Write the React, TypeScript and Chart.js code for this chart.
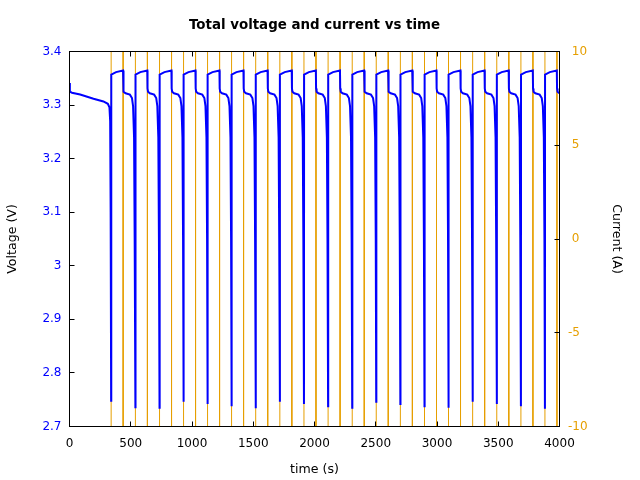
import { useEffect, useRef } from 'react';
import { Chart, registerables } from 'chart.js';

Chart.register(...registerables);

const FONT = 'DejaVu Sans';
const BLUE = '#0000ff';
const ORANGE = '#e69f00';

// Current switching times (s): charge starts / charge ends
const chargeStartTimes = [340, 538, 735, 931, 1127, 1323, 1520, 1717, 1914, 2111, 2308, 2504, 2701, 2898, 3094, 3291, 3488, 3685, 3881];
const chargeEndTimes = [438, 636, 833, 1029, 1225, 1421, 1618, 1815, 2012, 2209, 2406, 2602, 2799, 2996, 3192, 3389, 3586, 3783, 3979];
const chargeCurrent = 10;
const dischargeCurrent = -10;
const timeStart = 0;
const timeEnd = 4000;

// Voltage trace (time s, voltage V)
const voltageTimes = [
  0, 3, 20, 87, 196, 277, 313, 326, 332, 336,
  340, 341, 380, 437, 439, 443, 458, 493, 510, 519, 527, 532,
  538, 539, 578, 635, 637, 641, 656, 691, 708, 717, 725, 730,
  735, 736, 775, 832, 834, 838, 853, 888, 905, 914, 922, 927,
  931, 932, 971, 1028, 1030, 1034, 1049, 1084, 1101, 1110, 1118, 1123,
  1127, 1128, 1167, 1224, 1226, 1230, 1245, 1280, 1297, 1306, 1314, 1319,
  1323, 1324, 1363, 1420, 1422, 1426, 1441, 1476, 1493, 1502, 1510, 1515,
  1520, 1521, 1560, 1617, 1619, 1623, 1638, 1673, 1690, 1699, 1707, 1712,
  1717, 1718, 1757, 1814, 1816, 1820, 1835, 1870, 1887, 1896, 1904, 1909,
  1914, 1915, 1954, 2011, 2013, 2017, 2032, 2067, 2084, 2093, 2101, 2106,
  2111, 2112, 2151, 2208, 2210, 2214, 2229, 2264, 2281, 2290, 2298, 2303,
  2308, 2309, 2348, 2405, 2407, 2411, 2426, 2461, 2478, 2487, 2495, 2500,
  2504, 2505, 2544, 2601, 2603, 2607, 2622, 2657, 2674, 2683, 2691, 2696,
  2701, 2702, 2741, 2798, 2800, 2804, 2819, 2854, 2871, 2880, 2888, 2893,
  2898, 2899, 2938, 2995, 2997, 3001, 3016, 3051, 3068, 3077, 3085, 3090,
  3094, 3095, 3134, 3191, 3193, 3197, 3212, 3247, 3264, 3273, 3281, 3286,
  3291, 3292, 3331, 3388, 3390, 3394, 3409, 3444, 3461, 3470, 3478, 3483,
  3488, 3489, 3528, 3585, 3587, 3591, 3606, 3641, 3658, 3667, 3675, 3680,
  3685, 3686, 3725, 3782, 3784, 3788, 3803, 3838, 3855, 3864, 3872, 3877,
  3881, 3882, 3921, 3978, 3980, 3984, 4000,
];
const voltageValues = [
  3.341, 3.325, 3.323, 3.3197, 3.3117, 3.3067, 3.3024, 3.296, 3.27, 3.1,
  2.748, 3.357, 3.3615, 3.3645, 3.331, 3.325, 3.322, 3.3195, 3.313, 3.298, 3.24, 3.05,
  2.736, 3.357, 3.3615, 3.3645, 3.331, 3.325, 3.322, 3.3195, 3.313, 3.298, 3.24, 3.05,
  2.735, 3.357, 3.3615, 3.3645, 3.331, 3.325, 3.322, 3.3195, 3.313, 3.298, 3.24, 3.05,
  2.746, 3.357, 3.3615, 3.3645, 3.331, 3.325, 3.322, 3.3195, 3.313, 3.298, 3.24, 3.05,
  2.742, 3.357, 3.3615, 3.3645, 3.331, 3.325, 3.322, 3.3195, 3.313, 3.298, 3.24, 3.05,
  2.738, 3.357, 3.3615, 3.3645, 3.331, 3.325, 3.322, 3.3195, 3.313, 3.298, 3.24, 3.05,
  2.734, 3.357, 3.3615, 3.3645, 3.331, 3.325, 3.322, 3.3195, 3.313, 3.298, 3.24, 3.05,
  2.746, 3.357, 3.3615, 3.3645, 3.331, 3.325, 3.322, 3.3195, 3.313, 3.298, 3.24, 3.05,
  2.742, 3.357, 3.3615, 3.3645, 3.331, 3.325, 3.322, 3.3195, 3.313, 3.298, 3.24, 3.05,
  2.738, 3.357, 3.3615, 3.3645, 3.331, 3.325, 3.322, 3.3195, 3.313, 3.298, 3.24, 3.05,
  2.735, 3.357, 3.3615, 3.3645, 3.331, 3.325, 3.322, 3.3195, 3.313, 3.298, 3.24, 3.05,
  2.746, 3.357, 3.3615, 3.3645, 3.331, 3.325, 3.322, 3.3195, 3.313, 3.298, 3.24, 3.05,
  2.742, 3.357, 3.3615, 3.3645, 3.331, 3.325, 3.322, 3.3195, 3.313, 3.298, 3.24, 3.05,
  2.738, 3.357, 3.3615, 3.3645, 3.331, 3.325, 3.322, 3.3195, 3.313, 3.298, 3.24, 3.05,
  2.735, 3.357, 3.3615, 3.3645, 3.331, 3.325, 3.322, 3.3195, 3.313, 3.298, 3.24, 3.05,
  2.746, 3.357, 3.3615, 3.3645, 3.331, 3.325, 3.322, 3.3195, 3.313, 3.298, 3.24, 3.05,
  2.742, 3.357, 3.3615, 3.3645, 3.331, 3.325, 3.322, 3.3195, 3.313, 3.298, 3.24, 3.05,
  2.738, 3.357, 3.3615, 3.3645, 3.331, 3.325, 3.322, 3.3195, 3.313, 3.298, 3.24, 3.05,
  2.733, 3.357, 3.3615, 3.3645, 3.331, 3.325, 3.322,
];

const timeTicks = [0, 500, 1000, 1500, 2000, 2500, 3000, 3500, 4000];
const timeTickLabels = ['0', '500', '1000', '1500', '2000', '2500', '3000', '3500', '4000'];
const voltageTicks = [2.7, 2.8, 2.9, 3.0, 3.1, 3.2, 3.3, 3.4];
const voltageTickLabels = ['2.7', '2.8', '2.9', '3', '3.1', '3.2', '3.3', '3.4'];
const currentTicks = [-10, -5, 0, 5, 10];
const currentTickLabels = ['-10', '-5', '0', '5', '10'];

const framePlugin = {
  id: 'frame',
  afterDatasetsDraw(chart: any) {
    const { ctx, chartArea: a, scales } = chart;
    const al = (v: number) => Math.round(v - 0.5) + 0.5;
    const len = 5;
    ctx.save();
    ctx.strokeStyle = '#000';
    ctx.lineWidth = 1;
    ctx.beginPath();
    timeTicks.forEach((t) => {
      const px = al(scales.x.getPixelForValue(t));
      ctx.moveTo(px, a.bottom);
      ctx.lineTo(px, a.bottom - len);
      ctx.moveTo(px, a.top);
      ctx.lineTo(px, a.top + len);
    });
    voltageTicks.forEach((v) => {
      const py = al(scales.y.getPixelForValue(v));
      ctx.moveTo(a.left, py);
      ctx.lineTo(a.left + len, py);
    });
    currentTicks.forEach((v) => {
      const py = al(scales.y2.getPixelForValue(v));
      ctx.moveTo(a.right, py);
      ctx.lineTo(a.right - len, py);
    });
    ctx.stroke();
    ctx.strokeRect(a.left, a.top, a.right - a.left, a.bottom - a.top);
    ctx.restore();
  },
};

export default function App() {
  const ref = useRef<HTMLCanvasElement | null>(null);

  useEffect(() => {
    if (!ref.current) return;

    const voltageData = voltageTimes.map((t, i) => ({ x: t, y: voltageValues[i] }));
    const currentData: { x: number; y: number }[] = [{ x: timeStart, y: dischargeCurrent }];
    chargeStartTimes.forEach((s, i) => {
      const e = chargeEndTimes[i];
      currentData.push({ x: s, y: dischargeCurrent }, { x: s, y: chargeCurrent });
      currentData.push({ x: e, y: chargeCurrent }, { x: e, y: dischargeCurrent });
    });
    currentData.push({ x: timeEnd, y: dischargeCurrent });

    const tickFont = { family: FONT, size: 12 };
    const titleFont = { family: FONT, size: 12.6 };

    const chart = new Chart(ref.current, {
      type: 'line',
      data: {
        datasets: [
          {
            label: 'Voltage',
            data: voltageData,
            yAxisID: 'y',
            borderColor: BLUE,
            borderWidth: 2,
            pointRadius: 0,
            tension: 0,
            clip: 0,
          },
          {
            label: 'Current',
            data: currentData,
            yAxisID: 'y2',
            borderColor: ORANGE,
            borderWidth: 1,
            pointRadius: 0,
            tension: 0,
            clip: 0,
          },
        ],
      },
      options: {
        animation: false,
        responsive: false,
        devicePixelRatio: 1,
        layout: { padding: 0, autoPadding: false },
        events: [],
        plugins: {
          legend: { display: false },
          tooltip: { enabled: false },
          title: {
            display: true,
            text: 'Total voltage and current vs time',
            color: '#000',
            font: { family: FONT, size: 13.4, weight: 'bold' },
            padding: { top: 17.96, bottom: 17.46 },
            fullSize: false,
          },
        },
        scales: {
          x: {
            type: 'linear',
            position: 'bottom',
            min: timeStart,
            max: timeEnd,
            grid: { display: false, drawTicks: false },
            border: { display: false },
            afterBuildTicks: (s: any) => {
              s.ticks = timeTicks.map((v) => ({ value: v }));
            },
            afterFit: (s: any) => {
              s.height = 53.5;
            },
            ticks: {
              color: '#000',
              font: tickFont,
              padding: 10,
              maxRotation: 0,
              autoSkip: false,
              callback: (_v: any, i: number) => timeTickLabels[i],
            },
            title: {
              display: true,
              text: 'time (s)',
              color: '#000',
              font: titleFont,
              padding: { top: 0, bottom: 2.9 },
            },
          },
          y: {
            type: 'linear',
            position: 'left',
            min: 2.7,
            max: 3.4,
            grid: { display: false, drawTicks: false },
            border: { display: false },
            afterBuildTicks: (s: any) => {
              s.ticks = voltageTicks.map((v) => ({ value: v }));
            },
            afterFit: (s: any) => {
              s.width = 69.5;
            },
            ticks: {
              color: BLUE,
              font: tickFont,
              padding: 8,
              autoSkip: false,
              callback: (_v: any, i: number) => voltageTickLabels[i],
            },
            title: {
              display: true,
              text: 'Voltage (V)',
              color: '#000',
              font: titleFont,
              padding: { top: 5.2, bottom: 0 },
            },
          },
          y2: {
            type: 'linear',
            position: 'right',
            min: -10,
            max: 10,
            grid: { display: false, drawTicks: false },
            border: { display: false },
            afterBuildTicks: (s: any) => {
              s.ticks = currentTicks.map((v) => ({ value: v }));
            },
            afterFit: (s: any) => {
              s.width = 80.5;
            },
            ticks: {
              color: ORANGE,
              font: tickFont,
              padding: 8.5,
              autoSkip: false,
              callback: (_v: any, i: number) => {
                const lab = currentTickLabels[i];
                return lab.startsWith('-') ? lab : ' ' + lab;
              },
            },
            title: {
              display: true,
              text: 'Current (A)',
              color: '#000',
              font: titleFont,
              padding: { top: 15.7, bottom: 0 },
            },
          },
        },
      },
      plugins: [framePlugin],
    } as any);

    return () => chart.destroy();
  }, []);

  return (
    <div style={{ position: 'absolute', left: 0, top: 0, width: 640, height: 480, background: '#fff' }}>
      <canvas ref={ref} width={640} height={480} style={{ display: 'block' }} />
    </div>
  );
}
